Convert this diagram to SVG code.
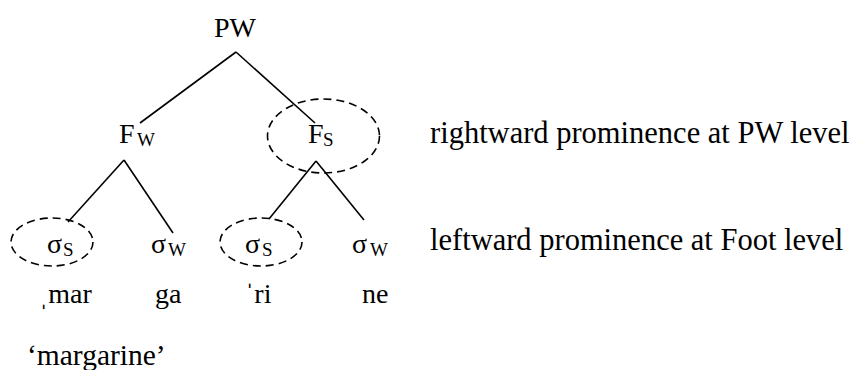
<svg xmlns="http://www.w3.org/2000/svg" width="856" height="370" viewBox="0 0 856 370">
  <style>
    .t { font-family: 'Liberation Serif', 'Times New Roman', 'DejaVu Serif', serif; font-size: 28px; fill: #000; }
    .sub { font-size: 19px; }
    .gloss { font-size: 29.5px; }
    .note { font-size: 30.5px; }
    .edge { stroke: #000; stroke-width: 1.6; fill: none; }
    .mark { fill: none; stroke: #000; stroke-width: 1.6; stroke-dasharray: 8 5; }
  </style>
  <rect width="856" height="370" fill="#fff"/>

  <!-- tree branches -->
  <g id="connectors">
    <line class="edge" x1="236" y1="52" x2="140" y2="123"/>
    <line class="edge" x1="236" y1="52" x2="315" y2="123"/>
    <line class="edge" x1="124" y1="160" x2="68" y2="222"/>
    <line class="edge" x1="124" y1="160" x2="173" y2="233"/>
    <line class="edge" x1="316" y1="161" x2="269" y2="219"/>
    <line class="edge" x1="316" y1="161" x2="364" y2="220"/>
  </g>

  <g class="t">
    <g id="pw">
      <text x="235" y="37" text-anchor="middle">PW</text>
    </g>

    <g id="foot-weak">
      <text x="119" y="143">F<tspan class="sub" x="137" y="146">W</tspan></text>
    </g>

    <g id="foot-strong">
      <ellipse class="mark" cx="323.5" cy="136" rx="56" ry="37"/>
      <text x="308" y="143">F<tspan class="sub" x="323" y="146">S</tspan></text>
    </g>

    <g id="syl-1">
      <ellipse class="mark" cx="52" cy="242" rx="41" ry="24"/>
      <text x="47" y="253">σ<tspan class="sub" x="63" y="256">S</tspan></text>
    </g>
    <g id="syl-2">
      <text x="151" y="253">σ<tspan class="sub" x="168" y="256">W</tspan></text>
    </g>
    <g id="syl-3">
      <ellipse class="mark" cx="261" cy="242" rx="41" ry="24"/>
      <text x="245" y="253">σ<tspan class="sub" x="262" y="256">S</tspan></text>
    </g>
    <g id="syl-4">
      <text x="352" y="253">σ<tspan class="sub" x="370" y="256">W</tspan></text>
    </g>

    <!-- segmental material, with stress marks -->
    <g id="segments">
      <text x="39" y="303">ˌmar</text>
      <text x="155" y="303">ga</text>
      <text x="245" y="303">ˈri</text>
      <text x="362" y="303">ne</text>
    </g>

    <g id="gloss">
      <text class="gloss" x="27" y="365">‘margarine’</text>
    </g>

    <g id="annotations">
      <text class="note" x="430" y="143">rightward prominence at PW level</text>
      <text class="note" x="430" y="250">leftward prominence at Foot level</text>
    </g>
  </g>
</svg>
